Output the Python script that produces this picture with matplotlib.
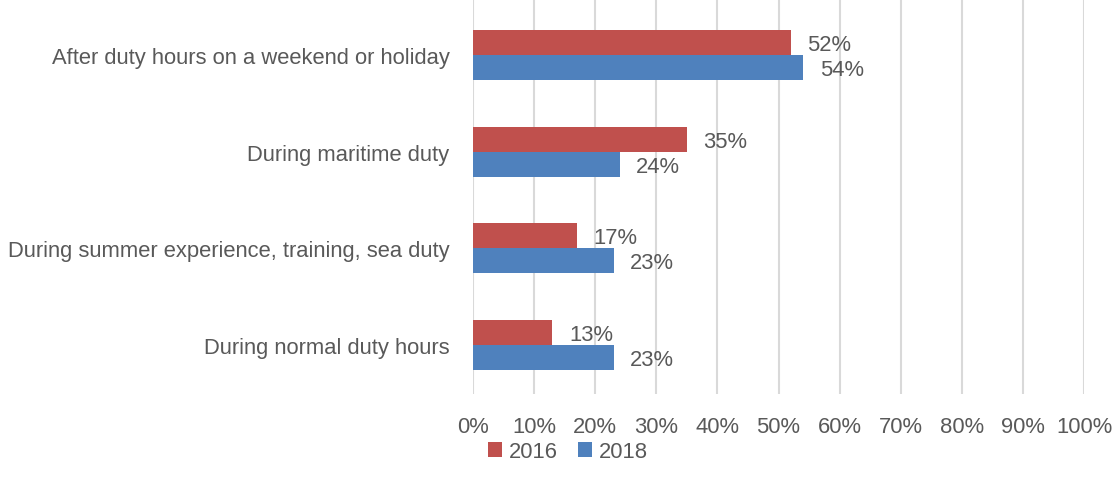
import numpy as np
import matplotlib
matplotlib.use('Agg')
import matplotlib.pyplot as plt

# Chart values (top to bottom)
categories = ['After duty hours on a weekend or holiday',
              'During maritime duty',
              'During summer experience, training, sea duty',
              'During normal duty hours']
vals_2016 = [52, 35, 17, 13]
vals_2018 = [54, 24, 23, 23]
x_ticks = [0, 10, 20, 30, 40, 50, 60, 70, 80, 90, 100]

red = '#C0504D'
blue = '#4F81BD'
text_col = '#595959'
fs = 15.8

plt.rcParams['font.family'] = ['Liberation Sans', 'DejaVu Sans']

fig = plt.figure(figsize=(11.13, 4.89), dpi=100)
ax = fig.add_axes([473 / 1113, 1 - 395 / 489, 611 / 1113, 395 / 489])

y = np.arange(len(categories))
h = 0.26
ax.barh(y - h / 2, vals_2016, height=h, color=red, label='2016', zorder=3)
ax.barh(y + h / 2, vals_2018, height=h, color=blue, label='2018', zorder=3)

# data labels
for yy, v in zip(y - h / 2, vals_2016):
    ax.annotate(f'{v}%', (v, yy), xytext=(12, -1.5), textcoords='offset points',
                va='center', ha='left', fontsize=fs, color=text_col)
for yy, v in zip(y + h / 2, vals_2018):
    ax.annotate(f'{v}%', (v, yy), xytext=(12, -1.5), textcoords='offset points',
                va='center', ha='left', fontsize=fs, color=text_col)

ax.set_xlim(0, 100)
ax.set_ylim(3.507, -0.579)
ax.set_xticks(x_ticks)
ax.set_xticklabels([f'{t}%' for t in x_ticks])
ax.set_yticks(y)
ax.set_yticklabels(categories)
ax.tick_params(axis='both', length=0, labelsize=fs, labelcolor=text_col)
ax.tick_params(axis='x', pad=16)
ax.tick_params(axis='y', pad=17)
ax.grid(axis='x', color='#D9D9D9', linewidth=1.5, zorder=0)
for s in ax.spines.values():
    s.set_visible(False)

handles, labels = ax.get_legend_handles_labels()
fig.legend(handles, labels, loc='center', bbox_to_anchor=(568 / 1113, 1 - 453 / 489),
           ncol=2, frameon=False, fontsize=fs, labelcolor=text_col,
           handlelength=0.65, handleheight=0.65, handletextpad=0.3, columnspacing=0.9)

fig.savefig('out.png', dpi=100)
